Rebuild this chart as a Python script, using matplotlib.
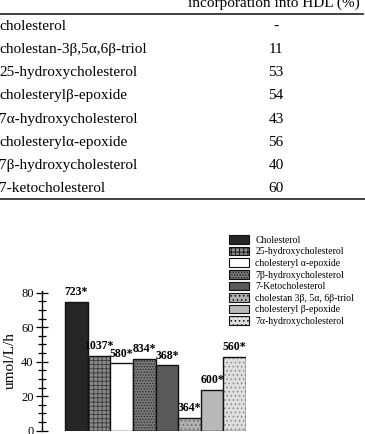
import matplotlib
matplotlib.use("Agg")
import matplotlib.pyplot as plt
from matplotlib.patches import Patch
from matplotlib.ticker import MultipleLocator

plt.rcParams["font.family"] = ["Liberation Serif", "DejaVu Serif"]
plt.rcParams["hatch.linewidth"] = 0.6

W, H = 365, 434

# --- table data ---
table_header = "incorporation into HDL (%)"
table_rows = ["cholesterol", "cholestan-3β,5α,6β-triol", "25-hydroxycholesterol",
              "cholesterylβ-epoxide", "7α-hydroxycholesterol", "cholesterylα-epoxide",
              "7β-hydroxycholesterol", "7-ketocholesterol"]
table_values = ["-", "11", "53", "54", "43", "56", "40", "60"]

# --- bar chart data ---
bar_labels = ["Cholesterol", "25-hydroxycholesterol", "cholesteryl α-epoxide",
              "7β-hydroxycholesterol", "7-Ketocholesterol", "cholestan 3β, 5α, 6β-triol",
              "cholesteryl β-epoxide", "7α-hydroxycholesterol"]
bar_values = [74.8, 43.5, 39.0, 41.6, 38.0, 7.5, 23.8, 42.9]
bar_notes = ["723*", "1037*", "580*", "834*", "368*", "364*", "600*", "560*"]
bar_colors = ["#262626", "#8a8a8a", "#ffffff", "#777777", "#5a5a5a", "#b0b0b0", "#b8b8b8", "#dedede"]
bar_hatches = [None, "++++", None, "......", None, "....", None, "...."]
hatch_colors = ["none", "#3a3a3a", "none", "#2e2e2e", "none", "#6a6a6a", "none", "#8a8a8a"]

fig = plt.figure(figsize=(W / 100, H / 100), dpi=100)

# table drawn in pixel coordinates
tax = fig.add_axes([0, 0, 1, 1])
tax.set_xlim(0, W)
tax.set_ylim(H, 0)
tax.axis("off")
tax.text(360, 7, table_header, ha="right", va="baseline", fontsize=11)
tax.plot([0, 363], [14, 14], color="#333333", lw=1.3)
tax.plot([0, 365], [199, 199], color="#333333", lw=1.3)
for i, (name, val) in enumerate(zip(table_rows, table_values)):
    yb = 30 + 23.15 * i
    tax.text(-1, yb, name, ha="left", va="baseline", fontsize=11)
    tax.text(276, yb, val, ha="center", va="baseline", fontsize=11)

# bar chart
y0, y_top = 430.7, 291.0
ax = fig.add_axes([42 / W, (H - y0) / H, (246 - 42) / W, (y0 - y_top) / H])
x = list(range(len(bar_values)))
for xi, v, c, h, hc in zip(x, bar_values, bar_colors, bar_hatches, hatch_colors):
    ax.bar(xi, v, width=1.0, color=c, edgecolor=hc, hatch=h, lw=0)
    ax.bar(xi, v, width=1.0, fill=False, edgecolor="#111111", lw=1.0)
for xi, v, t in zip(x, bar_values, bar_notes):
    ax.annotate(t, (xi, v), xytext=(0, 2.5), textcoords="offset points",
                ha="center", va="bottom", fontsize=8.5, fontweight="bold")

ax.set_xlim(-1.52, 7.5)
ax.set_ylim(0, 81)
ax.yaxis.set_major_locator(MultipleLocator(20))
ax.yaxis.set_minor_locator(MultipleLocator(5))
ax.tick_params(axis="y", which="major", direction="inout", length=8, width=0.9, labelsize=9, pad=2)
ax.tick_params(axis="y", which="minor", direction="inout", length=6, width=0.9)
ax.set_xticks([])
for s in ["top", "right", "bottom"]:
    ax.spines[s].set_visible(False)
ax.spines["left"].set_linewidth(1.0)
ax.set_ylabel("umol/L/h", fontsize=11, labelpad=3)

handles = [Patch(facecolor=c, edgecolor="#111111", hatch=h, lw=0.8)
           for c, h in zip(bar_colors, bar_hatches)]
fig.legend(handles, bar_labels, loc="upper left", bbox_to_anchor=(229 / W, (H - 235) / H),
           frameon=False, fontsize=7, handlelength=2.1, handleheight=1.0,
           handletextpad=0.6, labelspacing=0.2, borderaxespad=0, borderpad=0)

fig.savefig("out.png", dpi=100)
